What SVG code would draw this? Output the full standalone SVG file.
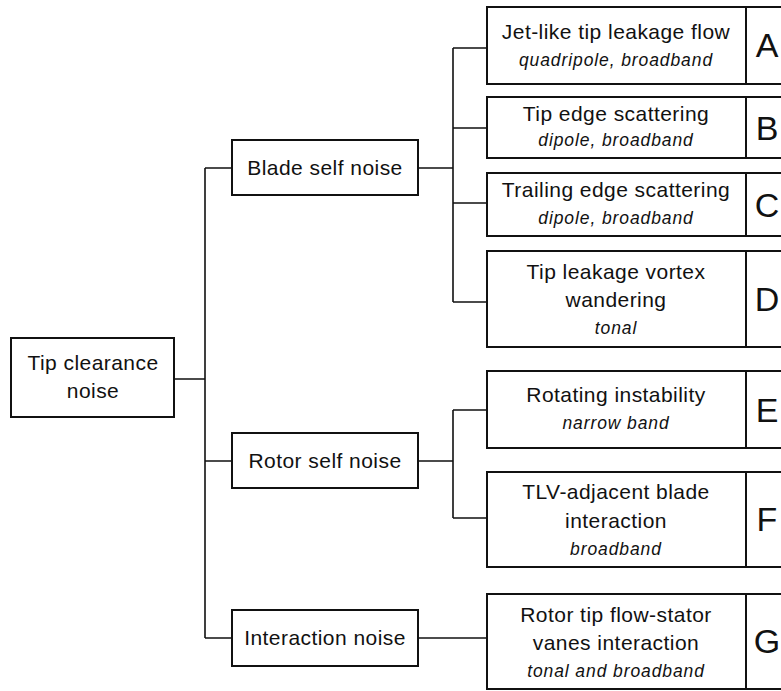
<svg xmlns="http://www.w3.org/2000/svg" width="781" height="691" viewBox="0 0 781 691">
<style>
.box{fill:#fff;stroke:#111;stroke-width:2}
.ln{fill:none;stroke:#111;stroke-width:1.6}
text{font-family:"Liberation Sans",Arial,Helvetica,sans-serif;fill:#111;text-anchor:middle}
.m{font-size:21px;letter-spacing:0.45px}
.i{font-size:17.5px;font-style:italic;letter-spacing:0.9px}
.L{font-size:34px}
</style>
<rect width="781" height="691" fill="#fff"/>
<g id="connectors">
<path class="ln" d="M174,379H205M205,168V638M205,168H232M205,461H232M205,638H232"/>
<path class="ln" d="M418,168H453M453,48V302M453,48H487M453,128H487M453,203H487M453,302H487"/>
<path class="ln" d="M418,461H453M453,410V518M453,410H487M453,518H487"/>
<path class="ln" d="M418,638H487"/>
</g>
<g id="root"><rect class="box" x="11" y="338" width="163" height="79"/><text class="m" x="93" y="370">Tip clearance</text><text class="m" x="93" y="398">noise</text></g>
<g id="blade"><rect class="box" x="232" y="140" width="186" height="55"/><text class="m" x="325" y="175">Blade self noise</text></g>
<g id="rotor"><rect class="box" x="232" y="433" width="186" height="55"/><text class="m" x="325" y="468">Rotor self noise</text></g>
<g id="interaction"><rect class="box" x="232" y="610" width="186" height="56"/><text class="m" x="325" y="645">Interaction noise</text></g>
<g id="nodeA"><rect class="box" x="487" y="7" width="259" height="77"/><rect class="box" x="746" y="7" width="50" height="77"/><text class="m" x="616" y="39">Jet-like tip leakage flow</text><text class="i" x="616" y="66">quadripole, broadband</text><text class="L" x="767" y="57">A</text></g>
<g id="nodeB"><rect class="box" x="487" y="97" width="259" height="61"/><rect class="box" x="746" y="97" width="50" height="61"/><text class="m" x="616" y="121">Tip edge scattering</text><text class="i" x="616" y="146">dipole, broadband</text><text class="L" x="767" y="140">B</text></g>
<g id="nodeC"><rect class="box" x="487" y="173" width="259" height="63"/><rect class="box" x="746" y="173" width="50" height="63"/><text class="m" x="616" y="197">Trailing edge scattering</text><text class="i" x="616" y="224">dipole, broadband</text><text class="L" x="767" y="217">C</text></g>
<g id="nodeD"><rect class="box" x="487" y="251" width="259" height="96"/><rect class="box" x="746" y="251" width="50" height="96"/><text class="m" x="616" y="279">Tip leakage vortex</text><text class="m" x="616" y="307">wandering</text><text class="i" x="616" y="334">tonal</text><text class="L" x="767" y="311">D</text></g>
<g id="nodeE"><rect class="box" x="487" y="371" width="259" height="77"/><rect class="box" x="746" y="371" width="50" height="77"/><text class="m" x="616" y="402">Rotating instability</text><text class="i" x="616" y="429">narrow band</text><text class="L" x="767" y="422">E</text></g>
<g id="nodeF"><rect class="box" x="487" y="472" width="259" height="95"/><rect class="box" x="746" y="472" width="50" height="95"/><text class="m" x="616" y="499">TLV-adjacent blade</text><text class="m" x="616" y="528">interaction</text><text class="i" x="616" y="555">broadband</text><text class="L" x="767" y="531">F</text></g>
<g id="nodeG"><rect class="box" x="487" y="594" width="259" height="95"/><rect class="box" x="746" y="594" width="50" height="95"/><text class="m" x="616" y="622">Rotor tip flow-stator</text><text class="m" x="616" y="650">vanes interaction</text><text class="i" x="616" y="677">tonal and broadband</text><text class="L" x="767" y="653">G</text></g>
</svg>
